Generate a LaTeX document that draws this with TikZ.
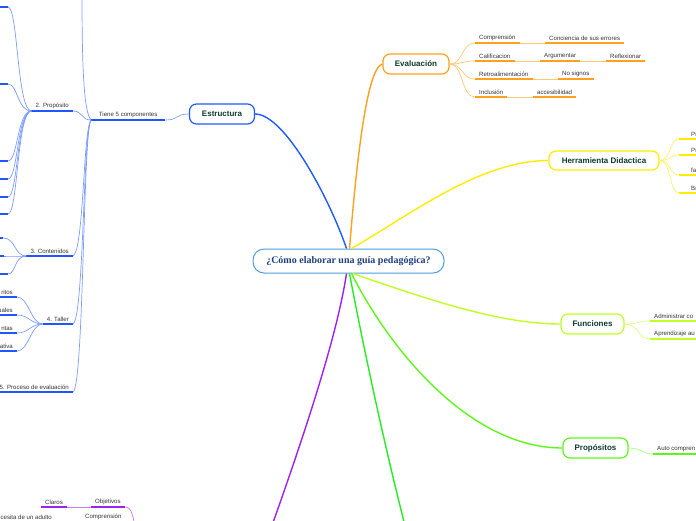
\documentclass[tikz,border=0pt]{standalone}
\usepackage{fontspec}
\setmainfont{Liberation Sans}
\newfontfamily\serifb{Liberation Serif}
\definecolor{blueB}{HTML}{1F5BFF}
\definecolor{blueL}{HTML}{7C9CFF}
\definecolor{blueU}{HTML}{2255FF}
\definecolor{orangeB}{HTML}{FFA01E}
\definecolor{orangeL}{HTML}{FFC978}
\definecolor{yellowB}{HTML}{FFEC00}
\definecolor{yellowL}{HTML}{FFF36B}
\definecolor{limeB}{HTML}{BFFF22}
\definecolor{limeL}{HTML}{D8FF88}
\definecolor{greenB}{HTML}{5EF71A}
\definecolor{greenL}{HTML}{A8FF7A}
\definecolor{bgreen}{HTML}{22EE22}
\definecolor{purpleB}{HTML}{A020F0}
\definecolor{purpleL}{HTML}{C77DFF}
\definecolor{cblue}{HTML}{4D9FDC}
\definecolor{ctext}{HTML}{1F3F80}
\definecolor{titlegreen}{HTML}{0D3B2E}
\definecolor{leafgray}{HTML}{333333}
\begin{document}
\begin{tikzpicture}[x=1pt,y=-1pt,
 topic/.style={draw=#1, rounded corners=7pt, line width=1.2pt, fill=white, inner sep=0pt, minimum height=20pt, font=\fontsize{8}{9}\selectfont\bfseries, text=titlegreen},
 leaf/.style={inner xsep=4pt, inner ysep=2pt, font=\fontsize{6.1}{7}\selectfont, text=leafgray},
 ul/.style={line width=1.6pt, draw=#1},
 conn/.style={line width=0.7pt, draw=#1},
 branch/.style={line width=1.4pt, draw=#1}]
\useasboundingbox (0,0) rectangle (696,520);
\clip (0,0) rectangle (696,520);

% ---------- main nodes ----------
\node[draw=cblue, line width=1pt, rounded corners=11pt, fill=white, minimum width=191pt, minimum height=24pt, inner sep=0pt, font=\serifb\bfseries\fontsize{10}{12}\selectfont, text=ctext] (c) at (348.5,261) {¿Cómo elaborar una guía pedagógica?};
\node[topic=blueB, minimum width=65pt] (est) at (222,114) {Estructura};
\node[topic=orangeB, minimum width=66pt] (ev) at (416,64) {Evaluación};
\node[topic=yellowB, minimum width=110pt, minimum height=19pt] (hd) at (604,160.5) {Herramienta Didactica};
\node[topic=limeB, minimum width=63pt] (fn) at (592.5,324) {Funciones};
\node[topic=greenB, minimum width=65pt] (pr) at (595.5,448) {Propósitos};
\coordinate (gEnd) at (410,545);
\coordinate (pEnd) at (265,545);

% ---------- main branches ----------
\draw[branch=blueB] ([xshift=-2pt]c.north) .. controls (330,200) and (285,114) .. (est.east);
\draw[branch=orangeB] ([xshift=1pt]c.north) .. controls (356,170) and (366,68) .. (ev.west);
\draw[branch=yellowB] ([xshift=3pt]c.north) .. controls (410,215) and (480,160.5) .. (hd.west);
\draw[branch=limeB] ([xshift=4pt]c.south) .. controls (430,300) and (500,324) .. (fn.west);
\draw[branch=greenB] ([xshift=3pt]c.south) .. controls (390,350) and (470,448) .. (pr.west);
\draw[branch=bgreen] ([xshift=1pt]c.south) .. controls (362,340) and (385,450) .. (gEnd);
\draw[branch=purpleB] ([xshift=-2pt]c.south) .. controls (338,330) and (310,420) .. (pEnd);

% ---------- Estructura subtree ----------
\node[leaf, anchor=south west, minimum width=74pt] (tiene) at (91,120) {Tiene 5 componentes};
\draw[ul=blueU] (tiene.south west) -- (tiene.south east);
\draw[conn=blueL] (est.west) .. controls +(-14,0) and +(14,0) .. (tiene.south east);

\node[leaf, anchor=south east] (prop) at (73,111) {2. Propósito};
\node[leaf, anchor=south east] (cont) at (73,256) {3. Contenidos};
\node[leaf, anchor=south east] (tal) at (73,324) {4. Taller};
\node[leaf, anchor=south east] (proc) at (73,392) {5. Proceso de evaluación};
\coordinate (up1) at (82,-5);
\foreach \n in {prop,cont,tal,proc} \draw[ul=blueU] (\n.south west) -- (\n.south east);
\draw[conn=blueL] (tiene.south west) .. controls (84,112) and (82,70) .. (up1);
\draw[conn=blueL] (tiene.south west) .. controls +(-10,0) and +(10,0) .. (prop.south east);
\draw[conn=blueL] (tiene.south west) .. controls (83,130) and (84,250) .. (cont.south east);
\draw[conn=blueL] (tiene.south west) .. controls (83,130) and (84,318) .. (tal.south east);
\draw[conn=blueL] (tiene.south west) .. controls (83,130) and (84,386) .. (proc.south east);

% 2. Proposito children (texts outside the picture)
\foreach \i/\yy in {1/7,2/84,3/161,4/179,5/197,6/214}{
  \coordinate (pa\i) at (-20,\yy);
  \coordinate (pb\i) at (8,\yy);
  \draw[ul=blueU] (pa\i) -- (pb\i);
  \draw[conn=blueL] (prop.south west) .. controls (17,111) and (18,\yy) .. (pb\i);
}
% 3. Contenidos children
\foreach \i/\yy/\xx in {1/238/3,2/256/4,3/274/8}{
  \coordinate (ca\i) at (-20,\yy);
  \coordinate (cb\i) at (\xx,\yy);
  \draw[ul=blueU] (ca\i) -- (cb\i);
  \draw[conn=blueL] (cont.south west) .. controls (14,256) and (16,\yy) .. (cb\i);
}
% 4. Taller children
\node[leaf, anchor=south east] (t1) at (17,297) {ritos};
\node[leaf, anchor=south east] (t2) at (17,315) {uales};
\node[leaf, anchor=south east] (t3) at (17,333) {ntas};
\node[leaf, anchor=south east] (t4) at (17,351) {ativa};
\foreach \n in {t1,t2,t3,t4}{
  \draw[ul=blueU] (\n.south west) -- (\n.south east);
  \draw[conn=blueL] (tal.south west) .. controls +(-12,0) and +(12,0) .. (\n.south east);
}

% ---------- Evaluacion subtree ----------
\node[leaf, anchor=south west] (ev1) at (475,43) {Comprensión};
\node[leaf, anchor=south west] (ev1b) at (545,43) {Conciencia de sus errores};
\node[leaf, anchor=south west] (ev2) at (475,61) {Calificacion};
\node[leaf, anchor=south west] (ev2b) at (540,61) {Argumentar};
\node[leaf, anchor=south west] (ev2c) at (606,61) {Reflexionar};
\node[leaf, anchor=south west] (ev3) at (475,79) {Retroalimentación};
\node[leaf, anchor=south west] (ev3b) at (558,79) {No signos};
\node[leaf, anchor=south west] (ev4) at (475,97) {Inclusión};
\node[leaf, anchor=south west] (ev4b) at (533,97) {accesibilidad};
\foreach \n in {ev1,ev1b,ev2,ev2b,ev2c,ev3,ev3b,ev4,ev4b} \draw[ul=orangeB] (\n.south west) -- (\n.south east);
\foreach \n in {ev1,ev2,ev3,ev4} \draw[conn=orangeL] (ev.east) .. controls +(14,0) and +(-14,0) .. (\n.south west);
\draw[conn=orangeL] (ev1.south east) -- (ev1b.south west);
\draw[conn=orangeL] (ev2.south east) -- (ev2b.south west);
\draw[conn=orangeL] (ev2b.south east) -- (ev2c.south west);
\draw[conn=orangeL] (ev3.south east) -- (ev3b.south west);
\draw[conn=orangeL] (ev4.south east) -- (ev4b.south west);

% ---------- Herramienta Didactica subtree ----------
\foreach \i/\yy/\tx in {1/139/Pr,2/155/Pr,3/175/fa,4/193/Br}{
  \coordinate (hs\i) at (679,\yy);
  \node[leaf, anchor=south west] (h\i) at (687,\yy) {\tx};
  \draw[ul=yellowB] (hs\i) -- (h\i.south east);
  \draw[conn=yellowL] (hd.east) .. controls +(12,0) and +(-10,0) .. (hs\i);
}

% ---------- Funciones subtree ----------
\node[leaf, anchor=south west] (f1) at (650,321) {Administrar co};
\node[leaf, anchor=south west] (f2) at (650,339) {Aprendizaje au};
\foreach \n in {f1,f2}{
  \draw[ul=limeB] (\n.south west) -- (\n.south east);
  \draw[conn=limeL] (fn.east) .. controls +(14,0) and +(-12,0) .. (\n.south west);
}

% ---------- Propositos subtree ----------
\node[leaf, anchor=south west] (pc1) at (653,454) {Auto compren};
\draw[ul=greenB] (pc1.south west) -- (pc1.south east);
\draw[conn=greenL] (pr.east) .. controls +(14,0) and +(-12,0) .. (pc1.south west);

% ---------- purple subtree (bottom left) ----------
\node[leaf, anchor=south west] (cl) at (41,507) {Claros};
\node[leaf, anchor=south west] (ob) at (91,507) {Objetivos};
\node[leaf, anchor=south west] (cm) at (81,522) {Comprensión};
\node[leaf, anchor=south east] (nec) at (56,522) {necesita de un adulto};
\coordinate (pk) at (137,548);
\foreach \n in {cl,ob,cm,nec} \draw[ul=purpleB] (\n.south west) -- (\n.south east);
\draw[conn=purpleL] (cl.south east) -- (ob.south west);
\draw[conn=purpleL] (nec.south east) -- (cm.south west);
\draw[conn=purpleL] (ob.south east) .. controls (132,507) and (134,515) .. (pk);
\draw[conn=purpleL] (cm.south east) .. controls (131,522) .. (pk);
\end{tikzpicture}
\end{document}
